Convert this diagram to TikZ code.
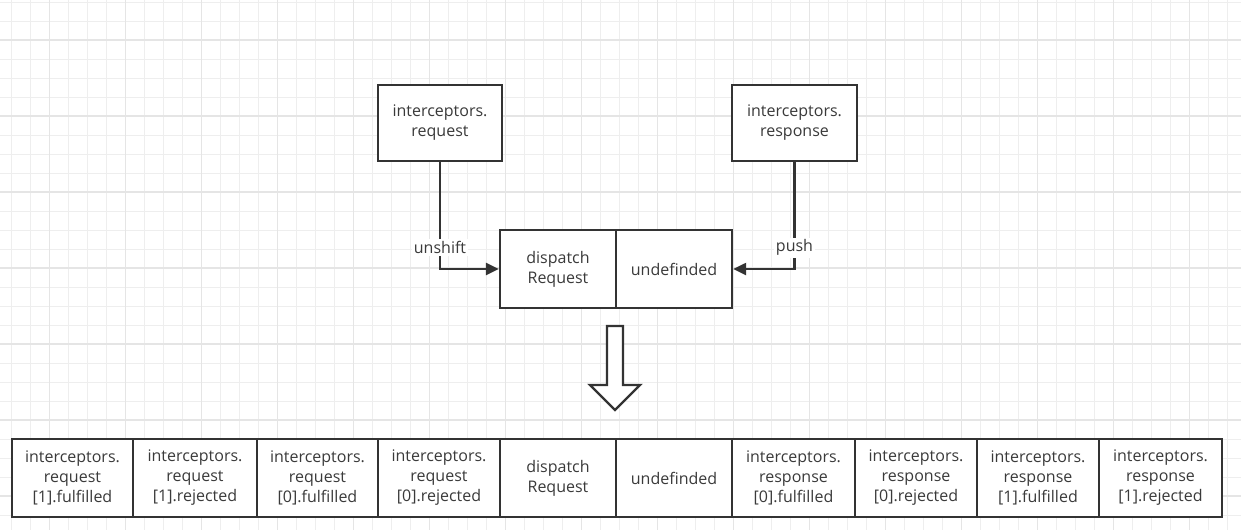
\documentclass[tikz,border=0pt]{standalone}
\usepackage{fontspec}
\setmainfont{Open Sans}
\usetikzlibrary{arrows.meta}
\definecolor{ink}{HTML}{333333}
\definecolor{txt}{HTML}{3A3A3A}
\definecolor{gridminor}{HTML}{EEEEEE}
\definecolor{gridmajor}{HTML}{E5E5E5}
\tikzset{
  gm/.style={draw=gridminor, line width=1pt},
  gM/.style={draw=gridmajor, line width=1.2pt},
  box/.style={draw=ink, line width=2.4pt, fill=white, text=txt, align=center, inner sep=0pt,
    font=\fontsize{16}{20}\selectfont},
  conn/.style={draw=ink, line width=2.4pt, -{Triangle[length=13pt,width=12pt]}},
  lbl/.style={fill=white, text=txt, inner sep=2pt, font=\fontsize{16}{20}\selectfont},
  bigarrow/.style={draw=ink, line width=2.4pt, fill=white, line join=miter}
}
\begin{document}
\begin{tikzpicture}[x=1pt,y=-1pt]
\useasboundingbox (0,0) rectangle (1241,530);
\fill[white] (0,0) rectangle (1241,530);
% grid
\foreach \i in {-1,...,66} {\draw[gm] ({11.5+19*\i},0) -- ({11.5+19*\i},530);}
\foreach \j in {0,...,28} {\draw[gm] (0,{2+19*\j}) -- (1241,{2+19*\j});}
\foreach \i in {-1,...,16} {\draw[gM] ({49.5+76*\i},0) -- ({49.5+76*\i},530);}
\foreach \j in {0,...,7} {\draw[gM] (0,{40+76*\j}) -- (1241,{40+76*\j});}
% top boxes
\node[box, minimum width=124, minimum height=76] (req) at (440,123) {interceptors.\\request};
\node[box, minimum width=125, minimum height=76] (resp) at (794.5,123) {interceptors.\\response};
% middle boxes
\node[box, minimum width=116, minimum height=78] (disp) at (558,269) {dispatch\\Request};
\node[box, minimum width=116, minimum height=78] (undef) at (674,269) {undefinded};
% connectors
\draw[conn] (req.south) -- node[lbl, pos=0.8] {unshift} (req.south |- disp.west) -- (disp.west);
\draw[conn] (resp.south) -- node[lbl, pos=0.8] {push} (resp.south |- undef.east) -- (undef.east);
% hollow arrow
\draw[bigarrow] (607,326) -- (623,326) -- (623,385) -- (640,385) -- (615,410) -- (590,385) -- (607,385) -- cycle;
% bottom row
\node[box, minimum width=121, minimum height=78] (c1) at (72.5,478) {interceptors.\\request\\{[1]}.fulfilled};
\node[box, minimum width=124, minimum height=78] (c2) at (195,478) {interceptors.\\request\\{[1]}.rejected};
\node[box, minimum width=121, minimum height=78] (c3) at (317.5,478) {interceptors.\\request\\{[0]}.fulfilled};
\node[box, minimum width=122, minimum height=78] (c4) at (439,478) {interceptors.\\request\\{[0]}.rejected};
\node[box, minimum width=116, minimum height=78] (c5) at (558,478) {dispatch\\Request};
\node[box, minimum width=116, minimum height=78] (c6) at (674,478) {undefinded};
\node[box, minimum width=123, minimum height=78] (c7) at (793.5,478) {interceptors.\\response\\{[0]}.fulfilled};
\node[box, minimum width=122, minimum height=78] (c8) at (916,478) {interceptors.\\response\\{[0]}.rejected};
\node[box, minimum width=122, minimum height=78] (c9) at (1038,478) {interceptors.\\response\\{[1]}.fulfilled};
\node[box, minimum width=123, minimum height=78] (c10) at (1160.5,478) {interceptors.\\response\\{[1]}.rejected};
\end{tikzpicture}
\end{document}
